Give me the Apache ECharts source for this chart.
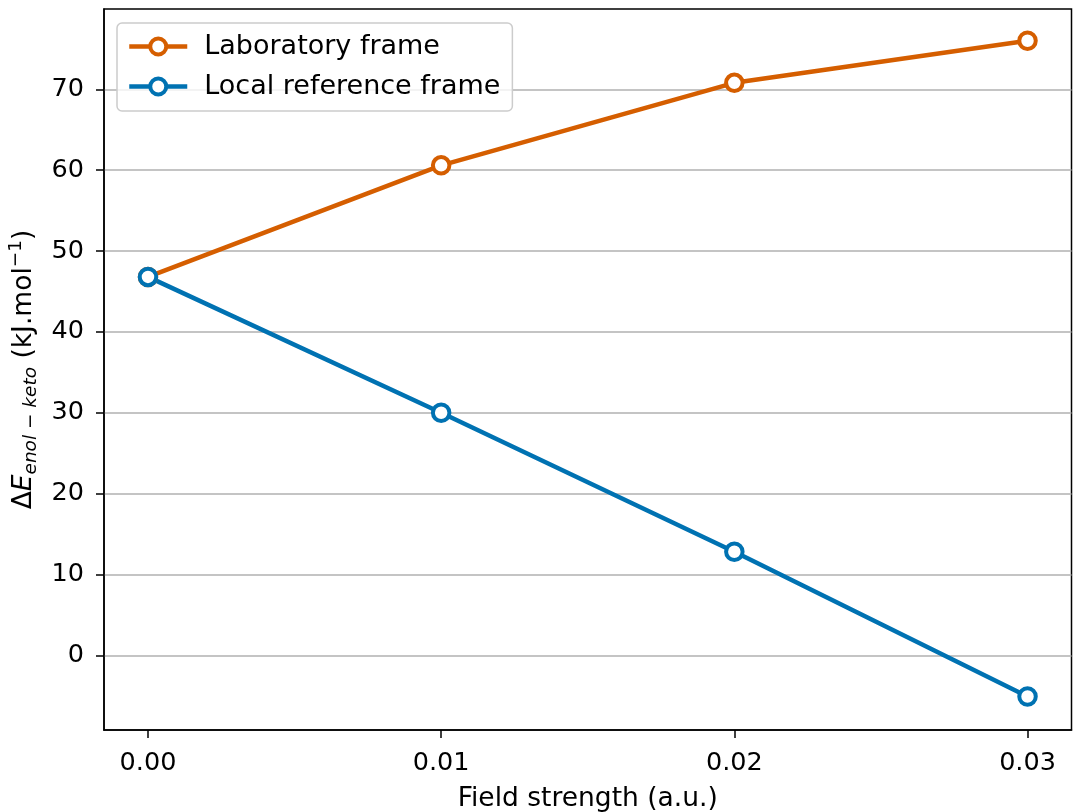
<!DOCTYPE html>
<html>
<head>
<meta charset="utf-8">
<script src="https://cdn.jsdelivr.net/npm/echarts@6/dist/echarts.min.js"></script>
<style>
  html, body { margin: 0; padding: 0; background: #fff; }
  #chart { width: 1073px; height: 812px; }
</style>
</head>
<body>
<div id="chart"></div>
<script>
  // field strength (a.u.)
  var fieldStrength = [0.00, 0.01, 0.02, 0.03];
  // delta E enol-keto (kJ/mol)
  var labFrame = [46.8, 60.6, 70.8, 76.0];
  var localFrame = [46.8, 30.0, 12.8, -5.1];
  var xTicks = [0.00, 0.01, 0.02, 0.03];
  var yTicks = [0, 10, 20, 30, 40, 50, 60, 70];
  var seriesNames = ['Laboratory frame', 'Local reference frame'];

  var orange = '#D55E00', blue = '#0072B2';
  var font = 'DejaVu Sans';

  function pairs(xs, ys) {
    return xs.map(function (x, i) { return [x, ys[i]]; });
  }

  function makeSeries(name, values, color) {
    return {
      name: name,
      type: 'line',
      data: pairs(fieldStrength, values),
      color: color,
      symbol: 'circle',
      symbolSize: 16.5,
      lineStyle: { color: color, width: 4.5 },
      itemStyle: { color: '#fff', borderColor: color, borderWidth: 4 }
    };
  }

  var chart = echarts.init(document.getElementById('chart'));
  chart.setOption({
    animation: false,
    grid: {
      left: 104, right: 1.5, top: 9, bottom: 82,
      outerBoundsMode: 'none',
      containLabel: false,
      show: true, borderColor: '#000', borderWidth: 1.5
    },
    legend: {
      data: seriesNames,
      orient: 'vertical',
      left: 117,
      top: 23,
      padding: [10, 12, 11, 10],
      itemWidth: 58,
      itemHeight: 20,
      itemGap: 13,
      backgroundColor: 'rgba(255,255,255,0.8)',
      borderColor: '#cccccc',
      borderWidth: 1.5,
      borderRadius: 5,
      lineStyle: { width: 4.5 },
      itemStyle: { borderWidth: 4 },
      textStyle: {
        fontFamily: font, fontSize: 27, color: '#000',
        lineHeight: 26, padding: [0, 0, 0, 12]
      }
    },
    xAxis: {
      type: 'value',
      min: -0.0015,
      max: 0.0315,
      name: 'Field strength (a.u.)',
      nameLocation: 'middle',
      nameGap: 56,
      nameTextStyle: { fontFamily: font, fontSize: 26.5, color: '#000' },
      axisLine: { show: true, onZero: false, lineStyle: { color: '#000', width: 1.5 } },
      axisTick: { show: true, length: 8, lineStyle: { color: '#000', width: 1.5 }, customValues: xTicks },
      axisLabel: {
        customValues: xTicks,
        margin: 20,
        fontFamily: font, fontSize: 25.5, color: '#000',
        formatter: function (v) { return v.toFixed(2); }
      },
      splitLine: { show: false }
    },
    yAxis: {
      type: 'value',
      min: -9.24,
      max: 79.93,
      name: '{d|Δ}{i|E}{sub|enol − keto} {n|(kJ.mol}{sup|−1}{n|)}',
      nameLocation: 'middle',
      nameRotate: 90,
      nameGap: 54,
      nameTextStyle: {
        fontFamily: font, fontSize: 26.5, color: '#000',
        rich: {
          d: { fontFamily: font, fontSize: 26.5, lineHeight: 34, color: '#000' },
          i: { fontFamily: font, fontSize: 26.5, lineHeight: 34, fontStyle: 'italic', color: '#000' },
          n: { fontFamily: font, fontSize: 26.5, lineHeight: 34, color: '#000' },
          sub: { fontFamily: font, fontSize: 18.5, lineHeight: 18, fontStyle: 'italic', verticalAlign: 'bottom', color: '#000' },
          sup: { fontFamily: font, fontSize: 18.5, lineHeight: 18, verticalAlign: 'top', color: '#000' }
        }
      },
      axisLine: { show: true, onZero: false, lineStyle: { color: '#000', width: 1.5 } },
      axisTick: { show: true, length: 8, lineStyle: { color: '#000', width: 1.5 }, customValues: yTicks },
      axisLabel: {
        customValues: yTicks,
        margin: 20,
        fontFamily: font, fontSize: 25.5, color: '#000'
      },
      splitLine: { show: true, lineStyle: { color: '#b0b0b0', width: 1.5 } }
    },
    series: [
      makeSeries(seriesNames[0], labFrame, orange),
      makeSeries(seriesNames[1], localFrame, blue)
    ]
  });
</script>
</body>
</html>
